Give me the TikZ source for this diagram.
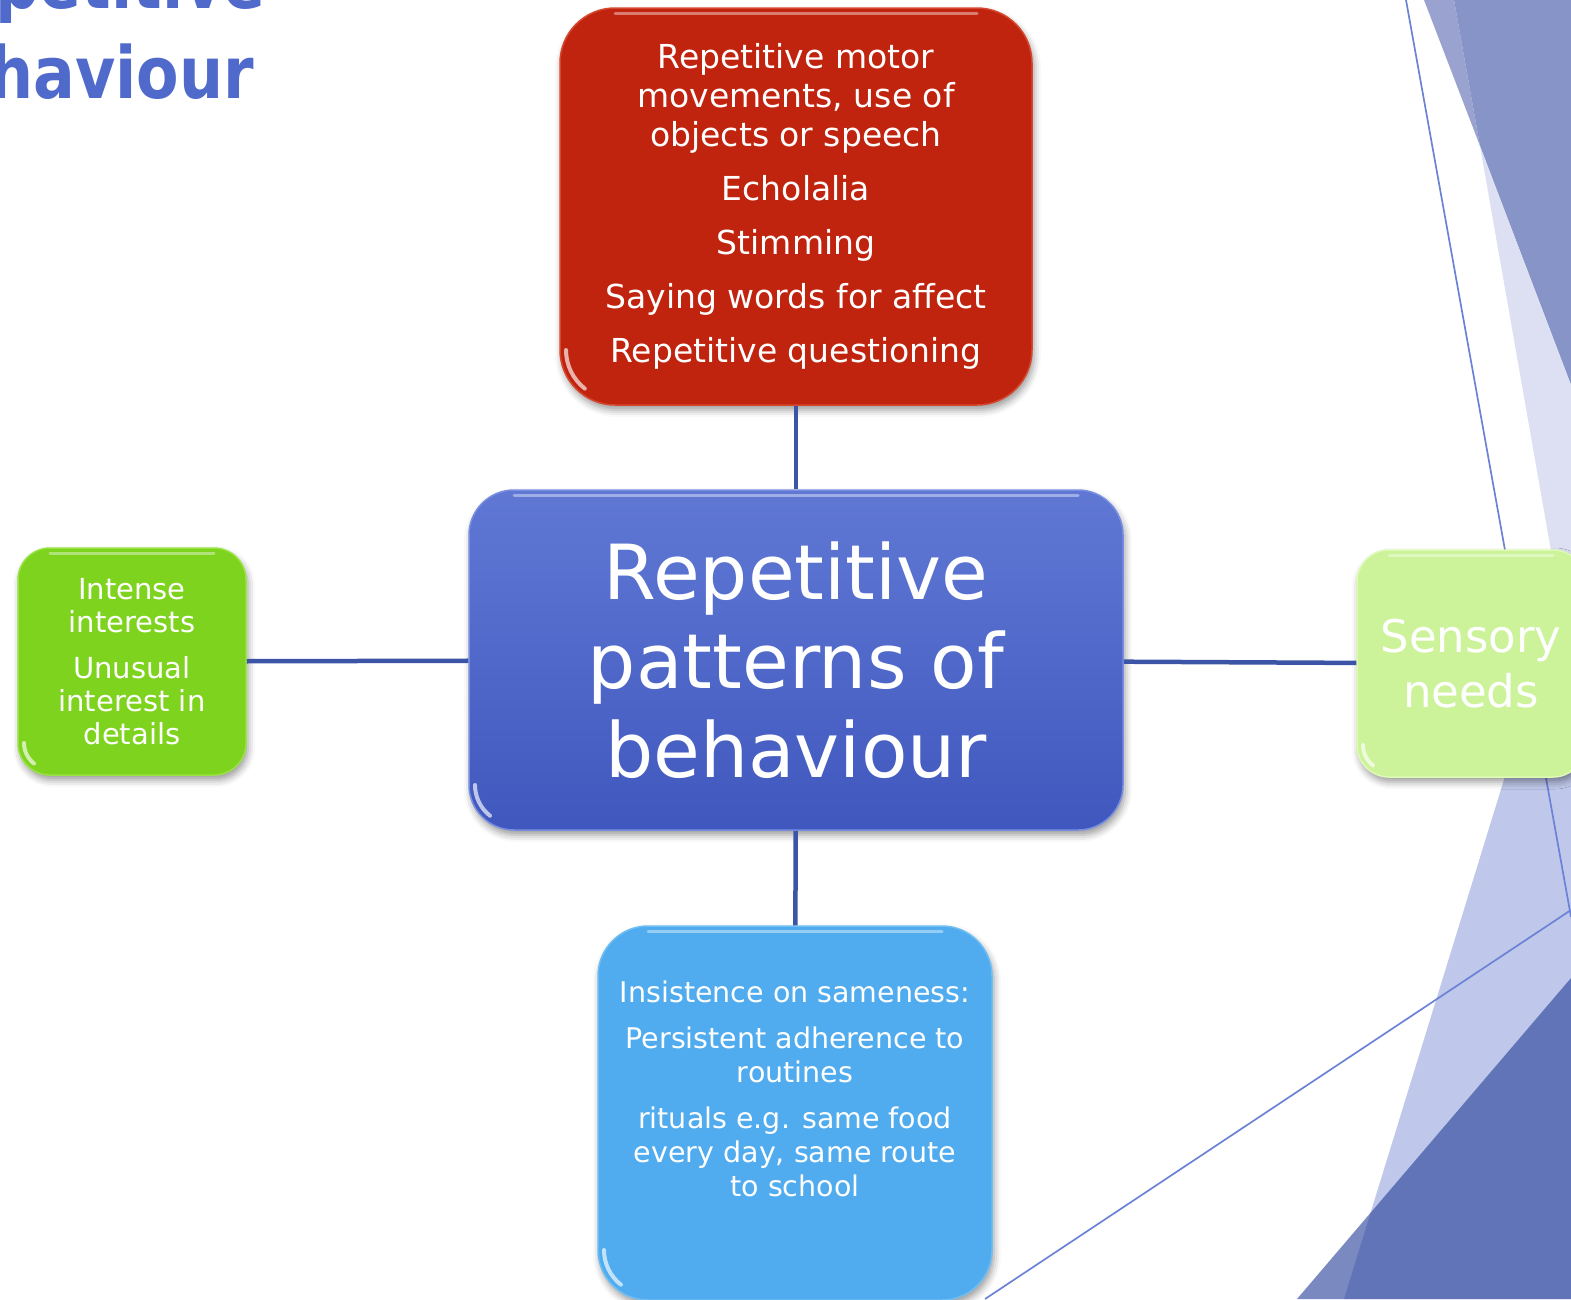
\documentclass[tikz,border=0pt]{standalone}
\usepackage{fontspec}
\usepackage{graphicx}
\setmainfont{DejaVu Sans}
\usetikzlibrary{shadows.blur}

\definecolor{titleblue}{RGB}{80,106,204}
\definecolor{connblue}{RGB}{60,84,165}
\definecolor{decoline}{RGB}{108,130,215}
\definecolor{facetA}{RGB}{220,224,242}
\definecolor{facetB}{RGB}{154,163,208}
\definecolor{facetAB}{RGB}{135,148,199}
\definecolor{facetC}{RGB}{191,200,234}
\definecolor{facetD}{RGB}{40,65,153}
\definecolor{redbox}{RGB}{192,36,14}
\definecolor{redrim}{RGB}{214,72,46}
\definecolor{coretop}{RGB}{96,120,212}
\definecolor{corebottom}{RGB}{64,88,190}
\definecolor{corerim}{RGB}{120,142,224}
\definecolor{greenbox}{RGB}{126,211,30}
\definecolor{greenrim}{RGB}{152,226,66}
\definecolor{lightgreen}{RGB}{204,242,154}
\definecolor{lightgreenrim}{RGB}{222,250,180}
\definecolor{skyblue}{RGB}{80,172,238}
\definecolor{skyrim}{RGB}{110,190,244}

\begin{document}
\begin{tikzpicture}[x=1pt,y=-1pt,
  conn/.style={draw=connblue, line width=4.5pt},
  deco/.style={draw=decoline, line width=1.7pt},
  card/.style={rounded corners=#1pt, line width=1.5pt, text=white, align=center,
    inner sep=0pt,
    blur shadow={shadow xshift=2pt, shadow yshift=-5pt,
      shadow blur radius=7pt, shadow opacity=40},
    path picture={
      \draw[white, draw opacity=0.4, line width=3pt, line cap=round]
        ([xshift=#1pt, yshift=-5pt]path picture bounding box.north west)
        -- ([xshift=-#1pt, yshift=-5pt]path picture bounding box.north east);
      \draw[white, draw opacity=0.65, line width=4pt, line cap=round]
        ([xshift=6pt, yshift=#1pt]path picture bounding box.south west)
        arc[start angle=180, end angle=128, radius=#1-6];
    }},
  titletext/.style={text=titleblue, inner sep=0pt,
    font=\bfseries\fontsize{72}{72}\selectfont},
]
\useasboundingbox (0,0) rectangle (1571,1299);
\clip (0,0) rectangle (1571,1299);

% facets on the right edge
\fill[facetB]  (1424,0) -- (1454,0) -- (1480,146) -- cycle;
\fill[facetAB] (1454,0) -- (1571,0) -- (1571,385) -- (1480,146) -- cycle;
\fill[facetA]  (1480,146) -- (1571,385) -- (1571,665) -- cycle;
\fill[facetC]  (1571,562) -- (1571,1299) -- (1344,1299) -- cycle;
\fill[facetD, fill opacity=0.62] (1571,978) -- (1571,1299) -- (1297,1299) -- cycle;
\draw[deco] (1406,0) -- (1571,917);
\draw[deco] (985,1299) -- (1571,910);

% slide title
\node[titletext, anchor=base east] (titleA) at (266,8) {\scalebox{0.86}[1]{Repetitive}};
\node[titletext, anchor=base east] (titleB) at (254,98) {\scalebox{0.86}[1]{behaviour}};

% cards
\node[card=55, fill=redbox, draw=redrim, minimum width=472pt, minimum height=397pt,
  font=\fontsize{33}{39}\selectfont] (motor) at (796,206.5)
  {Repetitive motor\\movements, use of\\objects or speech\\[15pt]Echolalia\\[15pt]Stimming\\[15pt]Saying words for affect\\[15pt]Repetitive questioning};

\node[card=45, top color=coretop, bottom color=corebottom, draw=corerim,
  minimum width=654pt, minimum height=340pt,
  font=\fontsize{76}{89}\selectfont] (core) at (796,660)
  {Repetitive\\patterns of\\behaviour};

\node[card=32, fill=greenbox, draw=greenrim, minimum width=228pt, minimum height=227pt,
  font=\fontsize{29}{33}\selectfont] (interests) at (132,661.5)
  {Intense\\interests\\[13pt]Unusual\\interest in\\details};

\node[card=32, fill=lightgreen, draw=lightgreenrim, minimum width=228pt, minimum height=227pt,
  font=\fontsize{45}{55}\selectfont] (sensory) at (1471,663.5)
  {Sensory\\needs};

\node[card=50, fill=skyblue, draw=skyrim, minimum width=394pt, minimum height=374pt]
  (sameness) at (795,1113) {};
\node[text=white, align=center, inner sep=0pt, font=\fontsize{28.5}{34}\selectfont]
  (samenesstext) at (795,1089)
  {Insistence on sameness:\\[12pt]Persistent adherence to\\routines\\[12pt]rituals e.g. same food\\every day, same route\\to school};

% connectors
\draw[conn] (motor) -- (core);
\draw[conn] (interests) -- (core);
\draw[conn] (core) -- (sensory);
\draw[conn] (core) -- (sameness);
\end{tikzpicture}
\end{document}
